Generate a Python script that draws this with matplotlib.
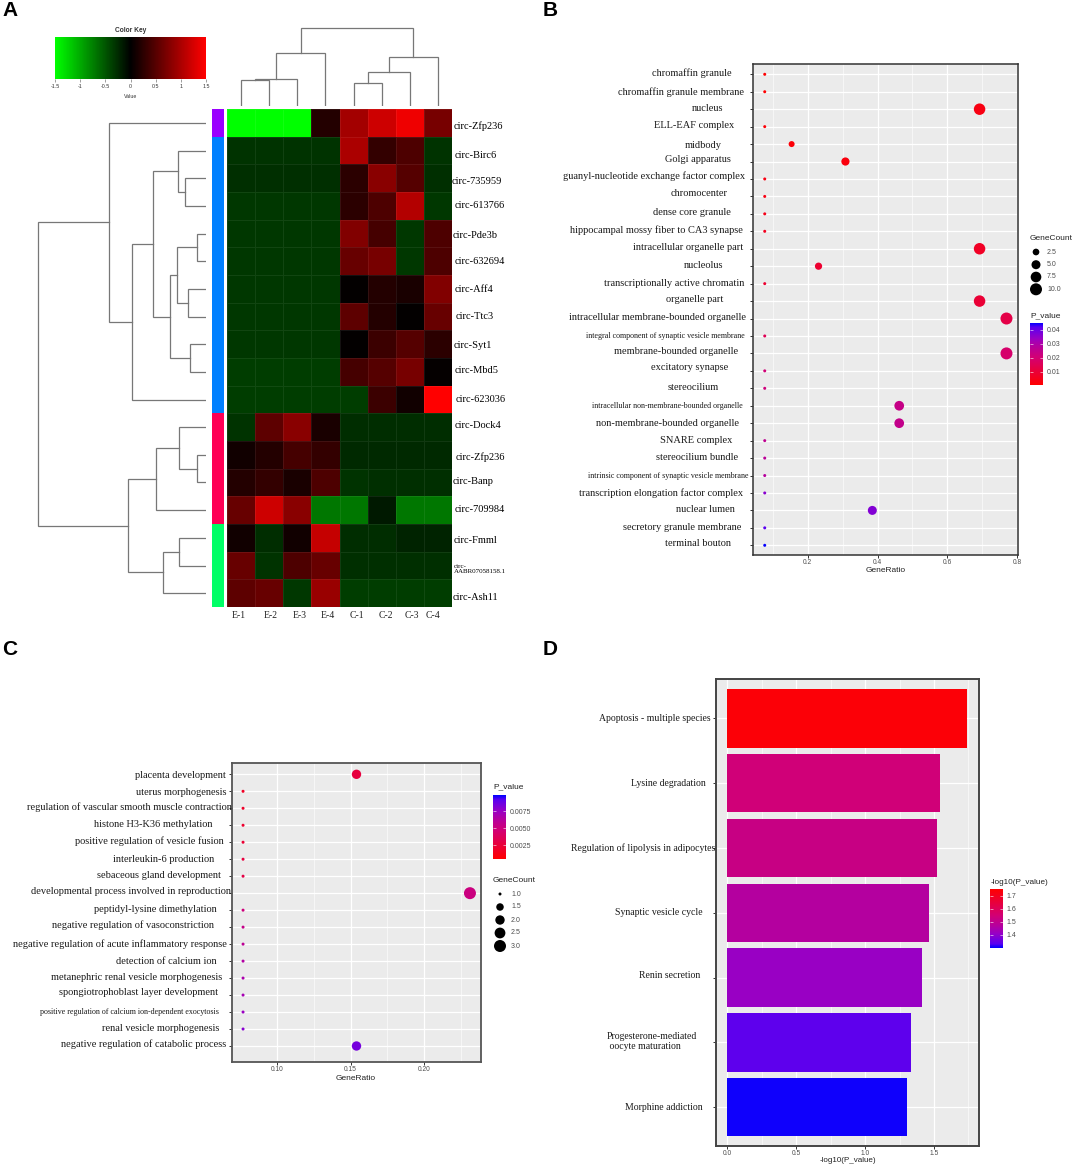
import numpy as np
import matplotlib
matplotlib.use('Agg')
import matplotlib.pyplot as plt
from matplotlib.cm import ScalarMappable
from matplotlib.colors import LinearSegmentedColormap, ListedColormap, Normalize

W, H = 1072, 1166

# ---- panel A data
row_names = ['circ-Zfp236', 'circ-Birc6', 'circ-735959', 'circ-613766', 'circ-Pde3b', 'circ-632694',
             'circ-Aff4', 'circ-Ttc3', 'circ-Syt1', 'circ-Mbd5', 'circ-623036', 'circ-Dock4',
             'circ-Zfp236', 'circ-Banp', 'circ-709984', 'circ-Fmml', 'circ-\nAABR07058158.1', 'circ-Ash11']
col_names = ['E-1', 'E-2', 'E-3', 'E-4', 'C-1', 'C-2', 'C-3', 'C-4']
heat_values = [
    [-1.5, -1.5, -1.5, 0.2, 0.95, 1.2, 1.4, 0.7],
    [-0.3, -0.3, -0.3, -0.3, 1.0, 0.3, 0.45, -0.3],
    [-0.28, -0.28, -0.28, -0.28, 0.25, 0.8, 0.5, -0.28],
    [-0.32, -0.32, -0.32, -0.32, 0.25, 0.45, 1.05, -0.32],
    [-0.32, -0.32, -0.32, -0.32, 0.75, 0.4, -0.32, 0.45],
    [-0.32, -0.32, -0.32, -0.32, 0.6, 0.7, -0.32, 0.45],
    [-0.32, -0.32, -0.32, -0.32, 0.02, 0.2, 0.15, 0.75],
    [-0.32, -0.32, -0.32, -0.32, 0.55, 0.2, 0.02, 0.6],
    [-0.32, -0.32, -0.32, -0.32, 0.02, 0.35, 0.5, 0.25],
    [-0.36, -0.36, -0.36, -0.36, 0.4, 0.5, 0.7, 0.03],
    [-0.36, -0.36, -0.36, -0.36, -0.36, 0.35, 0.1, 1.5],
    [-0.3, 0.55, 0.8, 0.15, -0.26, -0.26, -0.26, -0.26],
    [0.1, 0.2, 0.4, 0.3, -0.24, -0.24, -0.24, -0.24],
    [0.2, 0.3, 0.15, 0.45, -0.3, -0.28, -0.28, -0.28],
    [0.6, 1.2, 0.8, -0.7, -0.7, -0.15, -0.7, -0.7],
    [0.1, -0.26, 0.1, 1.15, -0.26, -0.26, -0.2, -0.2],
    [0.6, -0.3, 0.45, 0.6, -0.28, -0.28, -0.28, -0.28],
    [0.55, 0.6, -0.32, 0.9, -0.36, -0.36, -0.36, -0.36],
]
row_groups = [0, 1, 1, 1, 1, 1, 1, 1, 1, 1, 1, 2, 2, 2, 2, 3, 3, 3]
group_colors = ['#9a00ff', '#0080ff', '#ff0055', '#00ff66']
color_key_ticks = [-1.5, -1, -0.5, 0, 0.5, 1, 1.5]
color_key_labels = ['-1.5', '-1', '-0.5', '0', '0.5', '1', '1.5']

# dendrograms as (height, left, right), leaves are row / column numbers
row_tree = (168,
            (97.3, 0,
             (74, (53,
                   (28, 1, (21, 2, 3)),
                   (36, (29, (9, 4, 5), (18, 6, 7)), (16, 8, 9))),
              10)),
            (78, (50, (27, 11, (9, 12, 13)), 14),
             (43, (27, 15, 16), 17)))
col_tree = (78,
            (53.3, (27, (26, 0, 1), 2), 3),
            (49.3, (34, (23.3, 4, 5), 6), 7))

# ---- panel B data
b_terms = ['chromaffin granule', 'chromaffin granule membrane', 'nucleus', 'ELL-EAF complex', 'midbody',
           'Golgi apparatus', 'guanyl-nucleotide exchange factor complex', 'chromocenter', 'dense core granule',
           'hippocampal mossy fiber to CA3 synapse', 'intracellular organelle part', 'nucleolus',
           'transcriptionally active chromatin', 'organelle part', 'intracellular membrane-bounded organelle',
           'integral component of synaptic vesicle membrane', 'membrane-bounded organelle', 'excitatory synapse',
           'stereocilium', 'intracellular non-membrane-bounded organelle', 'non-membrane-bounded organelle',
           'SNARE complex', 'stereocilium bundle', 'intrinsic component of synaptic vesicle membrane',
           'transcription elongation factor complex', 'nuclear lumen', 'secretory granule membrane',
           'terminal bouton']
b_ratio = [0.077, 0.077, 0.692, 0.077, 0.154, 0.308, 0.077, 0.077, 0.077, 0.077, 0.692, 0.231, 0.077, 0.692,
           0.769, 0.077, 0.769, 0.077, 0.077, 0.462, 0.462, 0.077, 0.077, 0.077, 0.077, 0.385, 0.077, 0.077]
b_count = [1, 1, 9, 1, 2, 4, 1, 1, 1, 1, 9, 3, 1, 9, 10, 1, 10, 1, 1, 6, 6, 1, 1, 1, 1, 5, 1, 1]
b_pvalue = [0.001, 0.001, 0.004, 0.002, 0.002, 0.003, 0.004, 0.004, 0.005, 0.006, 0.007, 0.009, 0.009, 0.01,
            0.013, 0.015, 0.019, 0.021, 0.022, 0.024, 0.025, 0.026, 0.027, 0.028, 0.036, 0.037, 0.042, 0.045]
b_count_legend = [2.5, 5.0, 7.5, 10.0]
b_p_ticks = [0.01, 0.02, 0.03, 0.04]

# ---- panel C data
c_terms = ['placenta development', 'uterus morphogenesis', 'regulation of vascular smooth muscle contraction',
           'histone H3-K36 methylation', 'positive regulation of vesicle fusion', 'interleukin-6 production',
           'sebaceous gland development', 'developmental process involved in reproduction',
           'peptidyl-lysine dimethylation', 'negative regulation of vasoconstriction',
           'negative regulation of acute inflammatory response', 'detection of calcium ion',
           'metanephric renal vesicle morphogenesis', 'spongiotrophoblast layer development',
           'positive regulation of calcium ion-dependent exocytosis', 'renal vesicle morphogenesis',
           'negative regulation of catabolic process']
c_ratio = [0.154, 0.077, 0.077, 0.077, 0.077, 0.077, 0.077, 0.231, 0.077, 0.077, 0.077, 0.077, 0.077, 0.077,
           0.077, 0.077, 0.154]
c_count = [2, 1, 1, 1, 1, 1, 1, 3, 1, 1, 1, 1, 1, 1, 1, 1, 2]
c_pvalue = [0.0028, 0.0018, 0.002, 0.0022, 0.0024, 0.0028, 0.003, 0.0052, 0.005, 0.0055, 0.006, 0.0065,
            0.0068, 0.007, 0.0075, 0.008, 0.0085]
c_count_legend = [1.0, 1.5, 2.0, 2.5, 3.0]
c_p_ticks = [0.0025, 0.005, 0.0075]

# ---- panel D data
d_terms = ['Apoptosis - multiple species', 'Lysine degradation', 'Regulation of lipolysis in adipocytes',
           'Synaptic vesicle cycle', 'Renin secretion', 'Progesterone-mediated\n oocyte maturation',
           'Morphine addiction']
d_values = [1.74, 1.543, 1.52, 1.466, 1.413, 1.335, 1.304]
d_ticks = [1.4, 1.5, 1.6, 1.7]

# ---- hand placed label layout, the labels were not aligned in the figure
row_label_x = [454, 455, 452, 455, 453, 455, 455, 456, 454, 455, 456, 455, 456, 453, 455, 454, 454, 453]
row_label_y = [126, 155, 181, 205, 236, 262, 290, 316, 345, 371, 400, 426, 457, 482, 509, 541, 569, 597]
col_label_x = [239, 271, 299.5, 328, 357, 386, 412, 433]
b_label_right = [732, 743.7, 723, 734, 722, 731, 745, 728, 731, 743, 743.5, 723, 744.5, 723, 746, 745, 738, 728,
                 718.5, 742.5, 739.5, 732, 738, 748, 743.5, 735, 741, 731]
b_label_y = [73, 92, 108.7, 125, 145, 160, 176, 194, 212.5, 230.5, 248, 265, 283, 299.5, 318, 335.5, 352, 367.5,
             387, 406, 424, 440.5, 457, 476, 493, 510, 527.5, 544]
c_label_right = [226, 227, 231.5, 212.5, 223.5, 214, 221, 231, 216.5, 214, 226.5, 216.5, 222.5, 218, 219, 219, 226]
c_label_y = [775, 792.5, 807.5, 824.5, 841.5, 859, 875, 891.5, 909, 925.5, 944, 961.5, 977.5, 992.5, 1012.5,
             1028.5, 1044]
d_label_right = [711, 705.3, 715, 702.3, 700, 697.7, 702.3]
d_label_y = [718.7, 783, 848, 912.7, 976, 1041.5, 1107]
small_terms = ['integral component of synaptic vesicle membrane', 'intracellular non-membrane-bounded organelle',
               'intrinsic component of synaptic vesicle membrane',
               'positive regulation of calcium ion-dependent exocytosis']

SERIF = 'Liberation Serif'
SANS = 'Liberation Sans'
GRAY = '#4d4d4d'
PANEL = '#ebebeb'

green_red = LinearSegmentedColormap.from_list('gr', ['#00ff00', '#000000', '#ff0000'])
p_cmap = LinearSegmentedColormap.from_list(
    'pv', [(0, '#ff0000'), (0.45, '#d20075'), (0.51, '#c80082'), (0.63, '#b4009f'), (0.75, '#9900c4'),
           (0.93, '#5a00f0'), (1, '#0000ff')])
d_cmap = p_cmap.reversed()

fig = plt.figure(figsize=(W / 100, H / 100), dpi=100)


def px_axes(x0, y0, x1, y1):
    return fig.add_axes([x0 / W, 1 - y1 / H, (x1 - x0) / W, (y1 - y0) / H])


def px_text(x, y, s, **kw):
    kw.setdefault('va', 'center')
    kw.setdefault('family', SERIF)
    kw.setdefault('color', 'black')
    return fig.text(x / W, 1 - y / H, s, **kw)


def draw_tree(ax, node, horizontal):
    # returns leaf position of the node, draws its branches
    if not isinstance(node, tuple):
        return node + 0.5, 0
    height, left, right = node
    p0, h0 = draw_tree(ax, left, horizontal)
    p1, h1 = draw_tree(ax, right, horizontal)
    hs = [h0, height, height, h1]
    ps = [p0, p0, p1, p1]
    if horizontal:
        ax.plot(hs, ps, color='#777777', lw=0.9, solid_joinstyle='miter')
    else:
        ax.plot(ps, hs, color='#777777', lw=0.9, solid_joinstyle='miter')
    return (p0 + p1) / 2, height


def style_panel(ax, edge, lw):
    ax.set_facecolor(PANEL)
    ax.set_axisbelow(True)
    for s in ax.spines.values():
        s.set_color(edge)
        s.set_linewidth(lw)
    ax.grid(True, which='major', color='white', lw=0.9)
    ax.grid(True, which='minor', axis='x', color='white', lw=0.4)
    ax.tick_params(axis='both', which='major', length=2, width=0.7, color='#333333',
                   labelsize=4.8, labelcolor=GRAY, pad=1)
    ax.tick_params(axis='x', which='minor', length=0)
    ax.set_yticklabels([])


def gene_dia(count, cmin, cmax):
    # same area rule ggplot uses for scale_size, diameters in pixels
    return 3 + 9 * np.sqrt((np.asarray(count, float) - cmin) / (cmax - cmin))


def dots(ax, xs, ys, count, pvals, norm, cmin, cmax):
    d = gene_dia(count, cmin, cmax)
    ax.scatter(xs, ys, s=(d * 0.72) ** 2, c=pvals, cmap=p_cmap, norm=norm, linewidths=0, zorder=3)


def gg_colorbar(x0, y0, x1, y1, cmap, vmin, vmax, ticks, labels):
    cax = px_axes(x0, y0, x1, y1)
    cb = fig.colorbar(ScalarMappable(Normalize(vmin, vmax), cmap), cax=cax)
    cb.outline.set_visible(False)
    cb.set_ticks(ticks, labels=labels)
    cax.tick_params(axis='y', direction='in', length=2.2, width=0.4, color='white', left=True, right=True,
                    labelsize=5, labelcolor=GRAY, pad=3)
    for t in cax.get_yticklabels():
        t.set_family(SANS)
    return cax


def size_legend(x, ys, values, cmin, cmax, label_x):
    # legend drawn in an overlay axes in pixels so it can sit outside the panels
    ov = px_axes(0, 0, W, H)
    ov.set_xlim(0, W)
    ov.set_ylim(H, 0)
    ov.axis('off')
    ov.patch.set_alpha(0)
    d = gene_dia(values, cmin, cmax)
    ov.scatter([x] * len(values), ys, s=(d * 0.72) ** 2, c='black', linewidths=0)
    for y, v in zip(ys, values):
        px_text(label_x, y, '%.1f' % v, family=SANS, fontsize=5, color=GRAY)


# ---- panel A
ax = px_axes(227, 109, 452, 607)
ax.pcolormesh(np.array(heat_values), cmap=green_red, vmin=-1.5, vmax=1.5,
              edgecolors=(1, 1, 1, 0.07), linewidth=0.5)
ax.set_ylim(len(row_names), 0)
ax.axis('off')

ax = px_axes(212, 109, 223.7, 607)
ax.pcolormesh(np.array(row_groups)[:, None], cmap=ListedColormap(group_colors), vmin=-0.5, vmax=3.5)
ax.set_ylim(len(row_names), 0)
ax.axis('off')

ax = px_axes(37, 109, 206, 607)
draw_tree(ax, row_tree, True)
ax.set_xlim(169, 0)
ax.set_ylim(len(row_names), 0)
ax.axis('off')

ax = px_axes(227, 27, 452, 106)
draw_tree(ax, col_tree, False)
ax.set_xlim(0, len(col_names))
ax.set_ylim(0, 79)
ax.axis('off')

cax = px_axes(55, 36.5, 206, 78.5)
cb = fig.colorbar(ScalarMappable(Normalize(-1.5, 1.5), green_red), cax=cax, orientation='horizontal')
cb.outline.set_visible(False)
cb.set_ticks(color_key_ticks, labels=color_key_labels)
cax.tick_params(axis='x', length=2, width=0.4, color='#555555', labelsize=3.8, labelcolor='#333333', pad=2)
for t in cax.get_xticklabels():
    t.set_family(SANS)
px_text(130.5, 31, 'Color Key', family=SANS, fontsize=4.8, ha='center', fontweight='bold', color='#333333')
px_text(130.5, 96, 'Value', family=SANS, fontsize=3.8, ha='center', color='#333333')

for x, y, name in zip(row_label_x, row_label_y, row_names):
    px_text(x, y, name, fontsize=5 if '\n' in name else 7.5, linespacing=1.1)
for x, name in zip(col_label_x, col_names):
    px_text(x, 616, name, fontsize=7, ha='center', color='#222222')

# ---- panel B
ax = px_axes(753.3, 64, 1018, 555)
ys = np.arange(len(b_terms))
dots(ax, b_ratio, ys, b_count, b_pvalue, Normalize(0.0007, 0.0452), 1, 10)
ax.set_xlim(0.0443, 0.802)
ax.set_ylim(27 + 9.7 / 17.44, -10.3 / 17.44)
ax.set_xticks([0.2, 0.4, 0.6, 0.8])
ax.set_xticks([0.1, 0.3, 0.5, 0.7], minor=True)
ax.set_yticks(ys)
style_panel(ax, '#333333', 1.1)
for t in ax.get_xticklabels():
    t.set_family(SANS)
for r, y, term in zip(b_label_right, b_label_y, b_terms):
    px_text(r, y, term, ha='right', fontsize=5.8 if term in small_terms else 7.5, color='#1a1a1a')
px_text(885.5, 570, 'GeneRatio', family=SANS, fontsize=6, ha='center', color='#222222')

px_text(1030, 238, 'GeneCount', family=SANS, fontsize=6, color='#222222')
size_legend(1036, [252, 264.7, 277, 289.3], b_count_legend, 1, 10, 1047)
px_text(1030, 316, 'P_value', family=SANS, fontsize=6, color='#222222')
gg_colorbar(1030, 322.7, 1043, 385, p_cmap, 0.0007, 0.0452, b_p_ticks, ['0.01', '0.02', '0.03', '0.04'])

# ---- panel C
ax = px_axes(232, 762.7, 481, 1061.7)
ys = np.arange(len(c_terms))
dots(ax, c_ratio, ys, c_count, c_pvalue, Normalize(0.0005, 0.0099), 1, 3)
ax.set_xlim(0.0695, 0.2385)
ax.set_ylim(16 + 15.7 / 16.97, -11.6 / 16.97)
ax.set_xticks([0.10, 0.15, 0.20], ['0.10', '0.15', '0.20'])
ax.set_xticks([0.125, 0.175, 0.225], minor=True)
ax.set_yticks(ys)
style_panel(ax, '#555555', 1.3)
for t in ax.get_xticklabels():
    t.set_family(SANS)
for r, y, term in zip(c_label_right, c_label_y, c_terms):
    px_text(r, y, term, ha='right', fontsize=5.8 if term in small_terms else 7.5, color='#1a1a1a')
px_text(356, 1078, 'GeneRatio', family=SANS, fontsize=6, ha='center', color='#222222')

px_text(493, 787, 'P_value', family=SANS, fontsize=6, color='#222222')
gg_colorbar(493, 795, 506, 859, p_cmap, 0.0005, 0.0099, c_p_ticks, ['0.0025', '0.0050', '0.0075'])
px_text(493, 880, 'GeneCount', family=SANS, fontsize=6, color='#222222')
size_legend(500, [894, 907, 920, 933, 946], c_count_legend, 1, 3, 511)

# ---- panel D
ax = px_axes(715.7, 679.3, 979.3, 1146)
ys = np.arange(len(d_terms))
d_norm = Normalize(1.297, 1.754)
ax.barh(ys, d_values, height=0.9, color=d_cmap(d_norm(d_values)), zorder=3)
ax.set_xlim(-0.084, 1.829)
ax.set_ylim(6.6, -0.605)
ax.set_xticks([0, 0.5, 1.0, 1.5], ['0.0', '0.5', '1.0', '1.5'])
ax.set_xticks([0.25, 0.75, 1.25, 1.75], minor=True)
ax.set_yticks(ys)
style_panel(ax, '#444444', 1.4)
for t in ax.get_xticklabels():
    t.set_family(SANS)
for r, y, term in zip(d_label_right, d_label_y, d_terms):
    if '\n' in term:
        px_text(606.7, y, term, ha='left', fontsize=7, color='#1a1a1a', linespacing=1.15)
    else:
        px_text(r, y, term, ha='right', fontsize=7, color='#1a1a1a')
px_text(848, 1160.5, '-log10(P_value)', family=SANS, fontsize=5.8, ha='center', color='#222222')

px_text(990.5, 882, '-log10(P_value)', family=SANS, fontsize=5.9, color='#222222')
gg_colorbar(990.3, 889, 1002.7, 948, d_cmap, 1.297, 1.754, d_ticks, ['1.4', '1.5', '1.6', '1.7'])

# ---- panel letters
for x, y, letter in [(2, 10, 'A'), (543, 10, 'B'), (2, 650, 'C'), (543, 650, 'D')]:
    px_text(x, y, letter, family=SANS, fontsize=15, fontweight='bold')

fig.savefig('out.png', dpi=100, facecolor='white')
